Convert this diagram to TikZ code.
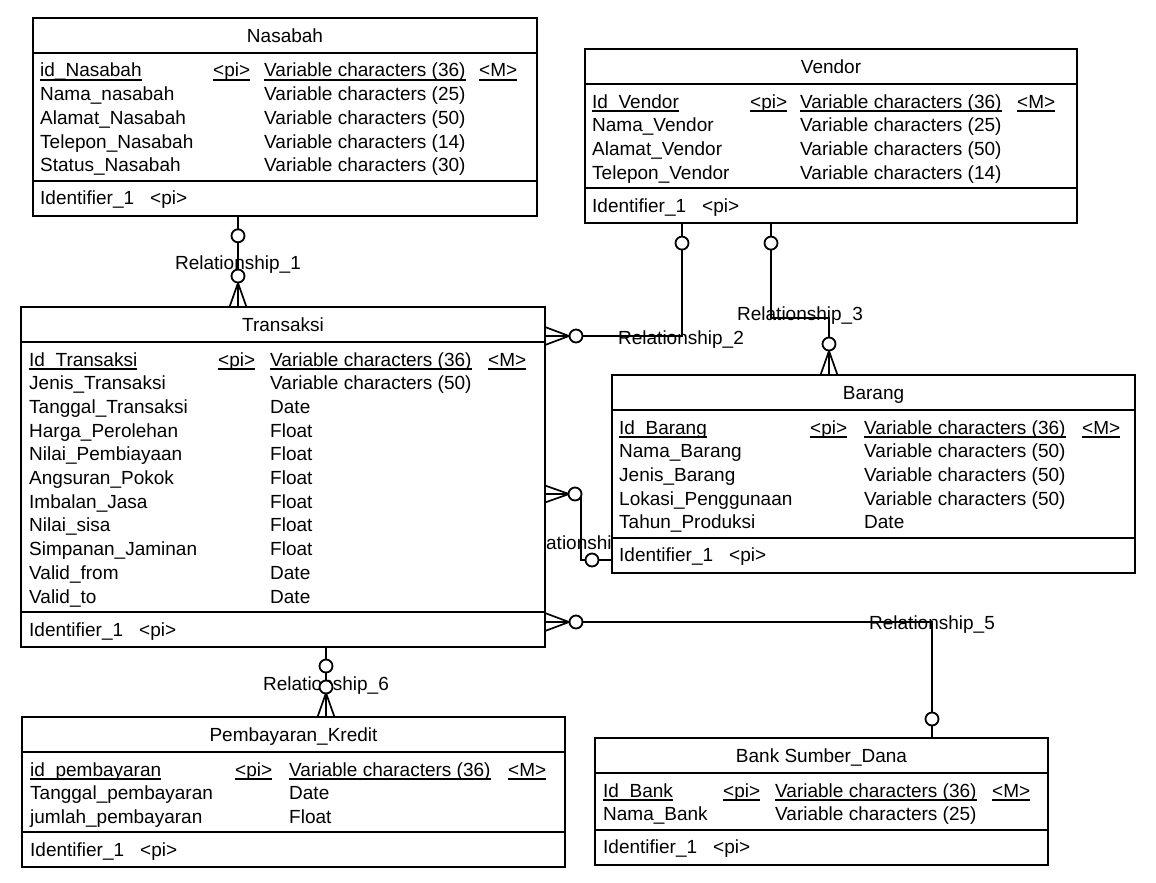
\documentclass[tikz,border=0pt]{standalone}
\usepackage{fontspec}
\setmainfont{Liberation Sans}
\usetikzlibrary{calc,backgrounds}
\newcommand\erfont{\fontsize{19}{23}\selectfont}
\tikzset{
  tbl/.style={draw, line width=2pt, fill=white, rectangle, inner sep=0pt, outer sep=0pt, anchor=north west},
  sepl/.style={line width=2pt},
  txt/.style={inner sep=0pt, anchor=base west, font=\erfont},
  ttl/.style={inner sep=0pt, anchor=base, font=\erfont},
  rel/.style={inner sep=0pt, anchor=base, font=\erfont},
  ul/.style={line width=1.4pt},
  lnk/.style={line width=2pt},
  crow/.style={line width=1.7pt},
  ring/.style={circle, draw, line width=1.8pt, fill=white, minimum size=13pt, inner sep=0pt}
}
\newcommand\etable[6]{%
  \def\etop{#3}%
  \pgfmathsetmacro\eH{103+(#5-1)*23.7}%
  \pgfmathsetmacro\eW{#4-#2}%
  \pgfmathsetmacro\eS{#3+52+(#5-1)*23.7+16}%
  \node[tbl, minimum width=\eW pt, minimum height=\eH pt] (#1) at (#2,#3) {};
  \draw[sepl] (#2,#3+35) -- (#4,#3+35);
  \draw[sepl] (#2,\eS) -- (#4,\eS);
  \node[ttl] (#1-ttl) at ({(#2+#4)/2},#3+24.5) {#6};
  \node[txt] (#1-id) at (\colN,\eS+24) {Identifier\_1};
  \node[txt] (#1-idpi) at (\colN+110,\eS+24) {<pi>};
}
\newcommand\erow[4]{%
  \node[txt] (#1n) at (\colN,{\etop+52+(#2-1)*23.7+7}) {#3};
  \node[txt] (#1t) at (\colT,{\etop+52+(#2-1)*23.7+7}) {#4};
}
\newcommand\pkrow[3]{%
  \erow{#1}{1}{#2}{#3}
  \node[txt] (#1p) at (\colP,{\etop+59}) {<pi>};
  \node[txt] (#1m) at (\colM,{\etop+59}) {<M>};
  \foreach \s in {n,p,t,m} {\draw[ul] ([yshift=-3pt]#1\s.base west) -- ([yshift=-3pt]#1\s.base east);}
}
\newcommand\crowto[3]{%
  \draw[crow] ($(#1)+#2$) -- ($(#1)+#3$) ($(#1)+#2$) -- (#1) ($(#1)+#2$) -- ($(#1)-#3$);
}
\begin{document}
\begin{tikzpicture}[x=1pt,y=-1pt]
\useasboundingbox (0,0) rectangle (1156,883);
% ---------- Nasabah
\def\colN{40}\def\colP{213}\def\colT{264}\def\colM{479}
\etable{nas}{33}{18}{537}{5}{Nasabah}
\pkrow{nas1}{id\_Nasabah}{Variable characters (36)}
\erow{nas2}{2}{Nama\_nasabah}{Variable characters (25)}
\erow{nas3}{3}{Alamat\_Nasabah}{Variable characters (50)}
\erow{nas4}{4}{Telepon\_Nasabah}{Variable characters (14)}
\erow{nas5}{5}{Status\_Nasabah}{Variable characters (30)}
% ---------- Vendor
\def\colN{592}\def\colP{750}\def\colT{800}\def\colM{1017}
\etable{ven}{585}{49}{1077}{4}{Vendor}
\pkrow{ven1}{Id\_Vendor}{Variable characters (36)}
\erow{ven2}{2}{Nama\_Vendor}{Variable characters (25)}
\erow{ven3}{3}{Alamat\_Vendor}{Variable characters (50)}
\erow{ven4}{4}{Telepon\_Vendor}{Variable characters (14)}
% ---------- Transaksi
\def\colN{29}\def\colP{218}\def\colT{270}\def\colM{488}
\etable{trx}{21}{307}{545}{11}{Transaksi}
\pkrow{trx1}{Id\_Transaksi}{Variable characters (36)}
\erow{trx2}{2}{Jenis\_Transaksi}{Variable characters (50)}
\erow{trx3}{3}{Tanggal\_Transaksi}{Date}
\erow{trx4}{4}{Harga\_Perolehan}{Float}
\erow{trx5}{5}{Nilai\_Pembiayaan}{Float}
\erow{trx6}{6}{Angsuran\_Pokok}{Float}
\erow{trx7}{7}{Imbalan\_Jasa}{Float}
\erow{trx8}{8}{Nilai\_sisa}{Float}
\erow{trx9}{9}{Simpanan\_Jaminan}{Float}
\erow{trx10}{10}{Valid\_from}{Date}
\erow{trx11}{11}{Valid\_to}{Date}
% ---------- Barang
\def\colN{619}\def\colP{810}\def\colT{864}\def\colM{1082}
\etable{brg}{612}{375}{1135}{5}{Barang}
\pkrow{brg1}{Id\_Barang}{Variable characters (36)}
\erow{brg2}{2}{Nama\_Barang}{Variable characters (50)}
\erow{brg3}{3}{Jenis\_Barang}{Variable characters (50)}
\erow{brg4}{4}{Lokasi\_Penggunaan}{Variable characters (50)}
\erow{brg5}{5}{Tahun\_Produksi}{Date}
% ---------- Pembayaran_Kredit
\def\colN{30}\def\colP{235}\def\colT{289}\def\colM{508}
\etable{pk}{22}{717}{565}{3}{Pembayaran\_Kredit}
\pkrow{pk1}{id\_pembayaran}{Variable characters (36)}
\erow{pk2}{2}{Tanggal\_pembayaran}{Date}
\erow{pk3}{3}{jumlah\_pembayaran}{Float}
% ---------- Bank Sumber_Dana
\def\colN{603}\def\colP{723}\def\colT{775}\def\colM{992}
\etable{bank}{595}{738}{1048}{2}{Bank Sumber\_Dana}
\pkrow{bank1}{Id\_Bank}{Variable characters (36)}
\erow{bank2}{2}{Nama\_Bank}{Variable characters (25)}
% ---------- relationships (behind the tables)
\begin{scope}[on background layer]
\fill[white] (0,0) rectangle (1156,883);
% labels
\node[rel] (l1) at (238,269) {Relationship\_1};
\node[rel] (l2) at (681,344) {Relationship\_2};
\node[rel] (l3) at (800,320) {Relationship\_3};
\node[rel] (l4) at (580.5,549) {Relationship\_4};
\node[rel] (l5) at (932,629) {Relationship\_5};
\node[rel] (l6) at (326,690) {Relationship\_6};
% Relationship_1
\coordinate (r1a) at (238,0 |- nas.south);
\coordinate (r1b) at (238,0 |- trx.north);
\draw[lnk] (r1a) -- (r1b);
\crowto{r1b}{(0,-24)}{(8.5,0)}
\node[ring] (r1o1) at ($(r1a)+(0,20)$) {};
\node[ring] (r1o2) at ($(r1b)+(0,-31)$) {};
% Relationship_2
\coordinate (r2a) at (trx.east |- 0,336);
\coordinate (r2b) at (682,0 |- ven.south);
\draw[lnk] (r2a) -| (r2b);
\crowto{r2a}{(24,0)}{(0,9)}
\node[ring] (r2o1) at ($(r2b)+(0,20)$) {};
\node[ring] (r2o2) at ($(r2a)+(31,0)$) {};
% Relationship_3
\coordinate (r3a) at (771,0 |- ven.south);
\coordinate (r3b) at (829,0 |- brg.north);
\draw[lnk] (r3a) |- ($(r3b)+(0,-57)$) -- (r3b);
\crowto{r3b}{(0,-24)}{(8.5,0)}
\node[ring] (r3o1) at ($(r3a)+(0,20)$) {};
\node[ring] (r3o2) at ($(r3b)+(0,-31)$) {};
% Relationship_4
\coordinate (r4a) at (trx.east |- 0,494);
\coordinate (r4b) at (brg.west |- 0,560);
\draw[lnk] (r4a) -| ($(r4b)+(-31,0)$) -- (r4b);
\crowto{r4a}{(24,0)}{(0,8.5)}
\node[ring] (r4o1) at ($(r4b)+(-20,0)$) {};
\node[ring] (r4o2) at ($(r4a)+(30,0)$) {};
% Relationship_5
\coordinate (r5a) at (trx.east |- 0,622);
\coordinate (r5b) at (932,0 |- bank.north);
\draw[lnk] (r5a) -| (r5b);
\crowto{r5a}{(24,0)}{(0,9)}
\node[ring] (r5o1) at ($(r5b)+(0,-19)$) {};
\node[ring] (r5o2) at ($(r5a)+(31,0)$) {};
% Relationship_6
\coordinate (r6a) at (326,0 |- trx.south);
\coordinate (r6b) at (326,0 |- pk.north);
\draw[lnk] (r6a) -- (r6b);
\crowto{r6b}{(0,-24)}{(8.5,0)}
\node[ring] (r6o1) at ($(r6a)+(0,19)$) {};
\node[ring] (r6o2) at ($(r6b)+(0,-30)$) {};
\end{scope}
\end{tikzpicture}
\end{document}
